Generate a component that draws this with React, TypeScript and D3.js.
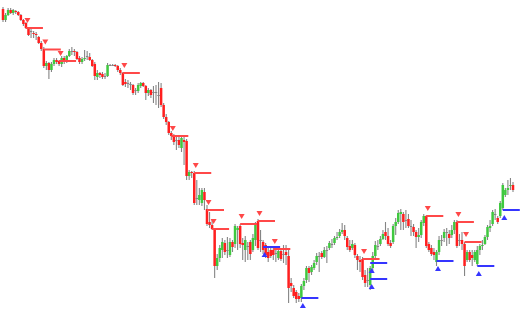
import React from "react";
import * as d3 from "d3";

const W = 521;
const H = 310;

const open = [
  301,290,295,300,297,299,298,295,290,287,
  282,279,277,276,273,267,261,244,247,240,
  246,250,249,246,252,248,254,259,259,258,
  252,248,251,254,253,250,246,233,237,236,
  234,234,245,245,245,244,240,237,228,227,
  226,225,220,219,224,227,224,217,220,218,
  218,215,222,205,193,188,177,174,170,170,
  162,170,169,134,138,137,112,110,107,118,
  101,88,85,81,44,52,60,67,60,55,
  68,66,80,84,67,60,64,68,60,70,
  89,70,68,65,58,60,60,57,52,59,
  56,58,54,27,22,18,14,12,24,30,
  42,38,42,48,54,57,53,60,62,66,
  67,72,74,78,80,72,64,62,65,54,
  50,51,35,30,25,42,54,64,66,71,
  78,74,67,68,84,88,96,96,90,91,
  84,83,78,73,75,87,94,66,62,58,
  48,58,70,72,78,76,75,80,88,70,
  70,66,50,58,55,50,46,60,64,66,
  73,82,86,96,92,94,102,115,120,124,
  125,
];
const high = [
  303,297,302,302,301,300,299,296,291,288,
  283,281,279,278,274,269,263,249,248,248,
  252,252,250,254,254,255,261,263,261,259,
  254,253,260,259,257,251,248,240,238,238,
  237,247,246,246,246,245,242,238,231,230,
  228,226,222,227,228,228,225,222,221,224,
  225,228,227,207,196,189,179,176,174,173,
  175,174,171,140,139,139,130,122,122,122,
  105,98,90,82,56,65,72,70,73,72,
  70,86,84,86,72,74,68,70,76,88,
  91,80,70,67,62,63,62,61,61,61,
  65,65,60,32,25,20,17,26,32,44,
  44,45,50,57,58,59,63,64,69,71,
  74,78,81,87,85,74,70,70,67,56,
  54,53,40,42,44,58,69,70,74,80,
  88,82,70,86,92,100,101,98,100,96,
  90,86,80,82,90,96,95,68,65,62,
  60,74,75,81,82,80,85,90,90,76,
  78,68,60,60,60,60,64,66,70,75,
  85,90,100,101,94,109,127,122,130,132,
  128,
];
const low = [
  288,288,294,296,295,296,294,289,284,281,
  274,272,272,270,266,259,242,240,231,238,
  244,246,244,243,246,247,253,255,254,250,
  246,246,249,250,249,243,230,230,232,231,
  231,233,244,244,243,238,235,224,223,222,
  220,215,215,217,222,223,210,214,212,207,
  205,202,203,191,185,175,170,165,160,162,
  158,145,130,130,132,105,105,105,104,100,
  84,82,80,32,40,48,52,55,52,53,
  58,62,60,62,50,48,50,50,58,64,
  60,58,56,52,48,52,50,48,50,49,
  47,45,7,18,12,7,8,8,20,27,
  28,35,40,45,38,51,52,47,60,62,
  65,70,72,76,70,60,58,60,52,40,
  38,30,23,23,20,38,52,60,64,70,
  70,64,62,66,75,86,80,80,82,82,
  74,74,62,68,72,84,62,58,54,50,
  44,55,64,68,64,66,72,76,62,64,
  60,34,48,48,44,48,44,55,60,65,
  70,78,84,90,86,92,100,113,115,120,
  118,
];
const close = [
  290,295,300,297,300,298,295,290,286,282,
  275,279,276,275,267,261,244,247,240,246,
  250,248,246,252,248,254,259,259,258,251,
  248,251,252,254,250,244,234,237,235,233,
  234,245,245,245,244,240,237,225,226,227,
  226,217,220,225,227,224,217,220,215,218,
  218,215,205,193,188,177,174,168,170,165,
  172,168,134,138,137,107,112,115,120,110,
  86,85,81,44,52,62,68,58,60,68,
  63,84,82,66,65,70,64,56,72,86,
  62,70,60,55,52,54,55,57,59,51,
  56,55,22,24,14,11,11,24,29,42,
  37,43,47,54,54,53,60,60,67,66,
  72,73,78,80,74,63,60,66,55,50,
  48,33,27,30,42,54,65,64,71,76,
  74,66,64,84,88,97,98,88,90,84,
  84,78,73,75,88,94,64,60,56,55,
  58,70,70,78,78,72,80,88,64,70,
  66,44,58,50,52,58,60,64,65,73,
  83,84,98,96,88,107,125,120,122,125,
  120,
];

// resistance (red) markers: candle index, level
const resIndex = [9, 16, 22, 47, 66, 75, 80, 82, 93, 100, 106, 141, 166, 178, 181];
const resLevel = [282, 260.5, 249, 237, 174, 137, 100, 81, 86, 89, 61, 51, 94, 88, 68];
// support (blue) markers
const supIndex = [102, 117, 144, 144, 170, 186, 196];
const supLevel = [63, 12, 31, 47, 49, 44, 100];

const RED = "#ff1f1f";
const GREEN = "#3fc83f";
const WICK = "#858585";
const LINE_RED = "#ff4848";
const LINE_BLUE = "#3535ff";

export default function App() {
  const n = open.length;
  const x = d3.scaleLinear().domain([0, n - 1]).range([3, 513]);
  const y = d3.scaleLinear().domain([0, 310]).range([H, 0]);
  const idx = d3.range(n);
  const lineLen = 17;
  const tri = (cx: number, cy: number, down: boolean) => {
    const s = 3;
    return down
      ? `M${cx - s},${cy - 2.5}L${cx + s},${cy - 2.5}L${cx},${cy + 2.5}Z`
      : `M${cx - s},${cy + 2.5}L${cx + s},${cy + 2.5}L${cx},${cy - 2.5}Z`;
  };

  return (
    <div style={{ position: "fixed", left: 0, top: 0, width: W, height: H, background: "#fff" }}>
      <svg width={W} height={H} style={{ display: "block" }}>
        <rect width={W} height={H} fill="#fff" />
        {idx.map((i) => {
          const cx = x(i);
          const o = open[i];
          const c = close[i];
          const color = c > o ? GREEN : c < o ? RED : WICK;
          const top = y(Math.max(o, c));
          const bh = Math.max(1, Math.abs(y(o) - y(c)));
          return (
            <g key={i}>
              <line x1={cx} x2={cx} y1={y(high[i])} y2={y(low[i])} stroke={WICK} strokeWidth={1.1} />
              <rect x={cx - 1.25} y={top} width={2.5} height={bh} fill={color} />
            </g>
          );
        })}
        {resIndex.map((ri, k) => {
          const x0 = x(ri);
          const ly = y(resLevel[k]);
          return (
            <g key={"r" + k}>
              <line x1={x0} x2={x0 + lineLen} y1={ly} y2={ly} stroke={LINE_RED} strokeWidth={2} />
              <path d={tri(x0 + 1.5, ly - 7.5, true)} fill={LINE_RED} />
            </g>
          );
        })}
        {supIndex.map((si, k) => {
          const x0 = x(si);
          const ly = y(supLevel[k]);
          return (
            <g key={"s" + k}>
              <line x1={x0} x2={x0 + lineLen} y1={ly} y2={ly} stroke={LINE_BLUE} strokeWidth={2} />
              <path d={tri(x0 + 1.5, ly + 7.5, false)} fill={LINE_BLUE} />
            </g>
          );
        })}
      </svg>
    </div>
  );
}
